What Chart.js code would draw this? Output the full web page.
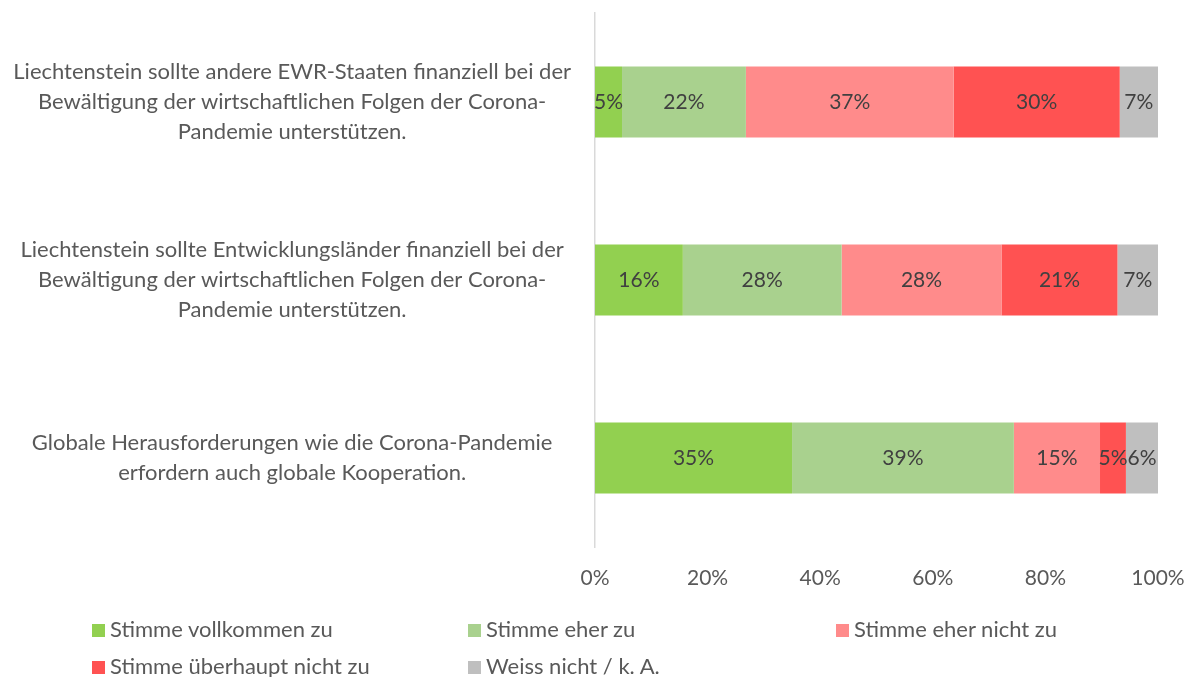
<!DOCTYPE html>
<html>
<head>
<meta charset="utf-8">
<script src="https://cdn.jsdelivr.net/npm/chart.js@4"></script>
<style>
  body { margin: 0; background: #fff; font-family: Lato, sans-serif; }
  #wrap { position: relative; width: 1192px; height: 677px; }
  #legend { position: absolute; left: 0; top: 0; width: 1192px; height: 677px; pointer-events: none; }
  .item { position: absolute; font-size: 22px; color: #595959; white-space: nowrap; line-height: 24px; }
  .item span.box { display: inline-block; width: 13px; height: 13px; margin-right: 5px; vertical-align: 0px; }
</style>
</head>
<body>
<div id="wrap">
  <canvas id="myChart" width="1192" height="677"></canvas>
  <div id="legend"></div>
</div>
<script>
// categories (multi-line, as shown)
var categories = [
  ["Liechtenstein sollte andere EWR-Staaten finanziell bei der", "Bewältigung der wirtschaftlichen Folgen der Corona-", "Pandemie unterstützen."],
  ["Liechtenstein sollte Entwicklungsländer finanziell bei der", "Bewältigung der wirtschaftlichen Folgen der Corona-", "Pandemie unterstützen."],
  ["Globale Herausforderungen wie die Corona-Pandemie", "erfordern auch globale Kooperation."]
];

var seriesNames = ["Stimme vollkommen zu", "Stimme eher zu", "Stimme eher nicht zu", "Stimme überhaupt nicht zu", "Weiss nicht / k. A."];
var seriesColors = ["#92D050", "#A9D18E", "#FF8B8B", "#FF5252", "#BFBFBF"];

// shares in percent, one array per answer
var vollkommen = [4.8, 15.6, 35.0];
var eher = [22.0, 28.2, 39.4];
var eherNicht = [36.9, 28.4, 15.3];
var ueberhauptNicht = [29.5, 20.6, 4.6];
var weissNicht = [6.8, 7.2, 5.7];

var tickLabels = ["0%", "20%", "40%", "60%", "80%", "100%"];

var seriesValues = [vollkommen, eher, eherNicht, ueberhauptNicht, weissNicht];

//draws the % in the middle of each bar piece
var barLabels = {
  id: 'barLabels',
  afterDatasetsDraw: function(chart) {
    var ctx = chart.ctx;
    ctx.save();
    ctx.font = '21px Lato';
    ctx.fillStyle = '#404040';
    ctx.textAlign = 'center';
    ctx.textBaseline = 'middle';
    chart.data.datasets.forEach(function(ds, i) {
      var meta = chart.getDatasetMeta(i);
      meta.data.forEach(function(bar, j) {
        var x = (bar.x + bar.base) / 2;
        ctx.fillText(Math.round(ds.data[j]) + '%', x, bar.y);
      });
    });
    ctx.restore();
  }
};

var datasets = seriesNames.map(function(name, i) {
  return {
    label: name,
    data: seriesValues[i],
    backgroundColor: seriesColors[i],
    barPercentage: 0.4,
    categoryPercentage: 1.0
  };
});

var ctx = "myChart";
var myChart = new Chart(ctx, {
  type: 'bar',
  data: { labels: categories, datasets: datasets },
  options: {
    indexAxis: 'y',
    responsive: false,
    animation: false,
    layout: { padding: { top: 13, right: 34, bottom: 88, left: 0 } },
    plugins: { legend: { display: false }, tooltip: { enabled: false } },
    scales: {
      x: {
        stacked: true,
        min: 0,
        max: 100,
        grid: { display: false, drawTicks: false },
        border: { display: false },
        afterFit: function(scale) {
          scale.height = 42;
          scale.paddingLeft = 0;
          scale.paddingRight = 0;
        },
        ticks: {
          stepSize: 20,
          padding: 19,
          color: '#595959',
          font: { family: 'Lato', size: 21 },
          callback: function(v, i) { return tickLabels[i]; }
        }
      },
      y: {
        stacked: true,
        grid: { display: false, drawTicks: false },
        border: { display: true, color: '#D9D9D9', width: 1.5 },
        afterFit: function(scale) {
          scale.width = 595;
          scale.paddingTop = 0;
          scale.paddingBottom = 0;
        },
        ticks: {
          crossAlign: 'center',
          padding: 24,
          color: '#595959',
          font: { family: 'Lato', size: 22, lineHeight: 1.38 }
        }
      }
    }
  },
  plugins: [barLabels]
});

// legend as a 3-column grid, like the original
var legendPos = [[92, 617], [468, 617], [836, 617], [92, 654], [468, 654]];
var legend = document.getElementById('legend');
seriesNames.forEach(function(name, i) {
  var d = document.createElement('div');
  d.className = 'item';
  d.style.left = legendPos[i][0] + 'px';
  d.style.top = legendPos[i][1] + 'px';
  d.innerHTML = '<span class="box" style="background:' + seriesColors[i] + '"></span>' + name;
  legend.appendChild(d);
});
</script>
</body>
</html>
